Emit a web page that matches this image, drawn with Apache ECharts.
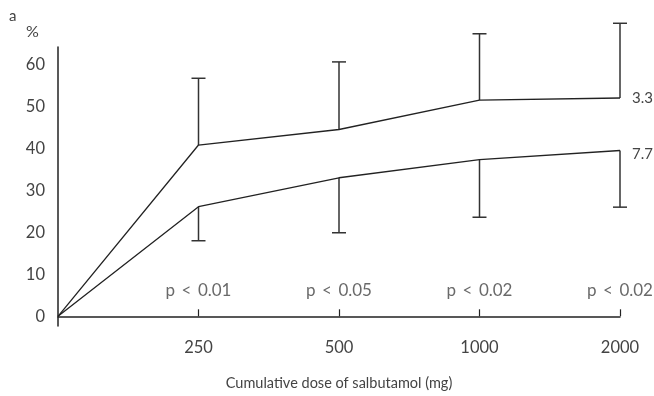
<!DOCTYPE html>
<html>
<head>
<meta charset="utf-8">
<script src="https://cdn.jsdelivr.net/npm/echarts@6/dist/echarts.min.js"></script>
<style>
  html, body { margin: 0; padding: 0; background: #fff; }
  #chart { width: 654px; height: 396px; }
</style>
</head>
<body>
<div id="chart"></div>
<script>
// ── data ──
const doses = ["0", "250", "500", "1000", "2000"];
const upperMean = [0, 40.8, 44.5, 51.5, 52.0];   // series ending "3.3"
const upperErr  = [null, 56.7, 60.6, 67.3, 69.8]; // top of SD bar
const lowerMean = [0, 26.1, 33.0, 37.3, 39.5];   // series ending "7.7"
const lowerErr  = [null, 18.0, 19.9, 23.6, 26.0]; // bottom of SD bar
const yTicks = [0, 10, 20, 30, 40, 50, 60];
const pValues = ["", "p < 0.01", "p < 0.05", "p < 0.02", "p < 0.02"];
const pLevel = 6.2;

const FONT = "Lato, 'Open Sans', sans-serif";
const TXT = "#444";
const INK = "#222";

// error bars: vertical stem from mean to bound + horizontal cap
const errData = [];
doses.forEach((d, i) => {
  if (upperErr[i] != null) errData.push([i, upperMean[i], upperErr[i]]);
  if (lowerErr[i] != null) errData.push([i, lowerMean[i], lowerErr[i]]);
});

function renderErr(params, api) {
  const a = api.coord([api.value(0), api.value(1)]);
  const b = api.coord([api.value(0), api.value(2)]);
  const cap = 7;
  const style = { stroke: "#333", lineWidth: 1.5 };
  return {
    type: "group",
    children: [
      { type: "line", shape: { x1: a[0], y1: a[1], x2: b[0], y2: b[1] }, style },
      { type: "line", shape: { x1: b[0] - cap, y1: b[1], x2: b[0] + cap, y2: b[1] }, style },
    ],
  };
}

const chart = echarts.init(document.getElementById("chart"), null, { renderer: "canvas" });
chart.setOption({
  animation: false,
  backgroundColor: "#fff",
  textStyle: { fontFamily: FONT },
  title: [
    { text: "a", left: 4, top: 4,
      textStyle: { color: TXT, fontSize: 15, fontWeight: "normal", fontFamily: FONT } },
    { text: "%", left: 21, top: 19,
      textStyle: { color: TXT, fontSize: 16, fontWeight: "normal", fontFamily: FONT } },
  ],
  grid: { left: 58, right: 34, top: 47, bottom: 61, containLabel: false },
  xAxis: {
    type: "category",
    data: doses,
    boundaryGap: false,
    name: "Cumulative dose of salbutamol (mg)",
    nameLocation: "middle",
    nameGap: 50,
    nameTextStyle: { color: TXT, fontSize: 14.5, fontFamily: FONT },
    axisLine: { lineStyle: { color: INK, width: 1.5 } },
    axisTick: { show: true, inside: true, length: 7, customValues: [1, 2, 3, 4],
      lineStyle: { color: INK, width: 1.2 } },
    axisLabel: { color: TXT, fontSize: 16.5, fontFamily: FONT, margin: 13,
      formatter: (v) => (v === "0" ? "" : v) },
    splitLine: { show: false },
  },
  yAxis: {
    type: "value",
    min: -2.31,
    max: 64.15,
    axisLine: { show: true, lineStyle: { color: INK, width: 1.5 } },
    axisTick: { show: false },
    axisLabel: { color: TXT, fontSize: 16.5, fontFamily: FONT, margin: 13, customValues: yTicks },
    splitLine: { show: false },
  },
  series: [
    {
      type: "line", data: upperMean, symbol: "none", clip: false,
      lineStyle: { color: INK, width: 1.3 },
      endLabel: { show: true, formatter: "3.3", color: TXT, fontSize: 15, fontFamily: FONT,
        distance: 0, offset: [12, 0] },
    },
    {
      type: "line", data: lowerMean, symbol: "none", clip: false,
      lineStyle: { color: INK, width: 1.3 },
      endLabel: { show: true, formatter: "7.7", color: TXT, fontSize: 15, fontFamily: FONT,
        distance: 0, offset: [12, 4] },
    },
    {
      type: "custom", data: errData, renderItem: renderErr, clip: false, silent: true,
    },
    {
      type: "scatter", symbolSize: 0, silent: true,
      data: pValues.map((p, i) => [i, pLevel, p]),
      label: { show: true, position: "inside", formatter: (p) => p.data[2].replace(/ /g, "\u2009 "),
        color: TXT, fontSize: 17, fontFamily: FONT },
    },
  ],
});
</script>
</body>
</html>
